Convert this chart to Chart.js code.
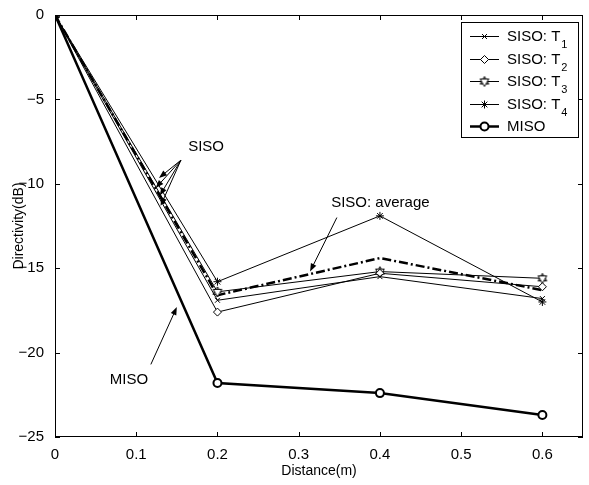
<!DOCTYPE html>
<html lang="en">
<head>
    <meta charset="UTF-8">
    <title>Directivity vs Distance</title>
    <script src="https://cdn.jsdelivr.net/npm/chart.js"></script>
    <style>
        body {
            margin: 0;
            background: #ffffff;
        }

        #wrap {
            width: 589px;
            height: 485px;
        }
    </style>
</head>
<body>
    <div id="wrap">
        <canvas id="chart" width="589" height="485"></canvas>
    </div>

    <script>
        // data
        const distance = [0, 0.2, 0.4, 0.6];
        const sisoT1 = [0, -16.9, -15.5, -16.8];
        const sisoT2 = [0, -17.6, -15.3, -16.1];
        const sisoT3 = [0, -16.4, -15.2, -15.6];
        const sisoT4 = [0, -15.8, -11.9, -17.0];
        const sisoAverage = [0, -16.6, -14.4, -16.3];
        const miso = [0, -21.8, -22.4, -23.7];

        const xTicks = [0, 0.1, 0.2, 0.3, 0.4, 0.5, 0.6];
        const yTicks = [-25, -20, -15, -10, -5, 0];

        const FONT = '"Liberation Sans", Arial, sans-serif';

        // hexagram marker for T3
        function makeHexagram(r) {
            const c = document.createElement('canvas');
            const s = r * 2 + 4;
            c.width = s;
            c.height = s;
            const g = c.getContext('2d');
            const cx = s / 2, cy = s / 2;
            g.strokeStyle = '#000';
            g.fillStyle = '#fff';
            g.lineWidth = 1;
            for (let k = 0; k < 2; k++) {
                g.beginPath();
                for (let i = 0; i < 3; i++) {
                    const a = -Math.PI / 2 + k * Math.PI + i * 2 * Math.PI / 3;
                    const px = cx + r * Math.cos(a), py = cy + r * Math.sin(a);
                    if (i === 0) g.moveTo(px, py); else g.lineTo(px, py);
                }
                g.closePath();
                g.fill();
                g.stroke();
            }
            return c;
        }
        const hexagram = makeHexagram(5);

        function pts(ys) {
            return distance.map((x, i) => ({ x: x, y: ys[i] }));
        }

        const datasets = [
            { label: 'SISO: T', sub: '1', data: pts(sisoT1), borderColor: '#000', borderWidth: 1,
              pointStyle: 'crossRot', pointRadius: 3.5, pointBorderWidth: 1, pointBackgroundColor: '#000' },
            { label: 'SISO: T', sub: '2', data: pts(sisoT2), borderColor: '#000', borderWidth: 1,
              pointStyle: 'rectRot', pointRadius: 4, pointBorderWidth: 1, pointBackgroundColor: '#fff' },
            { label: 'SISO: T', sub: '3', data: pts(sisoT3), borderColor: '#000', borderWidth: 1,
              pointStyle: hexagram, pointRadius: 4, pointBorderWidth: 1, pointBackgroundColor: '#fff' },
            { label: 'SISO: T', sub: '4', data: pts(sisoT4), borderColor: '#000', borderWidth: 1,
              pointStyle: 'star', pointRadius: 4, pointBorderWidth: 1, pointBackgroundColor: '#000' },
            { label: 'SISO: average', data: pts(sisoAverage), borderColor: '#000', borderWidth: 2.5,
              borderDash: [9, 3, 2, 3], pointRadius: 0, noLegend: true },
            { label: 'MISO', data: pts(miso), borderColor: '#000', borderWidth: 2.5,
              pointStyle: 'circle', pointRadius: 4, pointBorderWidth: 2, pointBackgroundColor: '#fff' }
        ];

        // text annotations and arrows, in data coordinates
        const notes = [
            { text: 'SISO', x: 0.186, y: -7.8, align: 'center' },
            { text: 'SISO: average', x: 0.34, y: -11.1, align: 'left' },
            { text: 'MISO', x: 0.091, y: -21.6, align: 'center' }
        ];
        const arrows = [
            { from: [0.155, -8.6], to: [0.128, -9.65] },
            { from: [0.155, -8.6], to: [0.124, -10.25] },
            { from: [0.155, -8.6], to: [0.129, -10.7] },
            { from: [0.155, -8.6], to: [0.130, -11.3] },
            { from: [0.347, -12.0], to: [0.314, -15.2] },
            { from: [0.118, -20.7], to: [0.150, -17.3] }
        ];

        function drawArrow(ctx, x1, y1, x2, y2) {
            const a = Math.atan2(y2 - y1, x2 - x1);
            const len = 8, w = 3;
            ctx.beginPath();
            ctx.moveTo(x1, y1);
            ctx.lineTo(x2 - len * Math.cos(a) * 0.8, y2 - len * Math.sin(a) * 0.8);
            ctx.stroke();
            ctx.beginPath();
            ctx.moveTo(x2, y2);
            ctx.lineTo(x2 - len * Math.cos(a) + w * Math.sin(a), y2 - len * Math.sin(a) - w * Math.cos(a));
            ctx.lineTo(x2 - len * Math.cos(a) - w * Math.sin(a), y2 - len * Math.sin(a) + w * Math.cos(a));
            ctx.closePath();
            ctx.fill();
        }

        const framePlugin = {
            id: 'frame',
            afterDraw(chart) {
                const ctx = chart.ctx;
                const a = chart.chartArea;
                const xs = chart.scales.x, ys = chart.scales.y;
                ctx.save();
                ctx.strokeStyle = '#000';
                ctx.fillStyle = '#000';
                ctx.lineWidth = 1;

                // box
                ctx.strokeRect(a.left + 0.5, a.top + 0.5, a.right - a.left - 1, a.bottom - a.top - 1);

                // inward ticks on all four sides
                ctx.beginPath();
                xTicks.forEach(v => {
                    const px = Math.round(xs.getPixelForValue(v)) + 0.5;
                    ctx.moveTo(px, a.bottom); ctx.lineTo(px, a.bottom - 5);
                    ctx.moveTo(px, a.top); ctx.lineTo(px, a.top + 5);
                });
                yTicks.forEach(v => {
                    const py = Math.round(ys.getPixelForValue(v)) + 0.5;
                    ctx.moveTo(a.left, py); ctx.lineTo(a.left + 5, py);
                    ctx.moveTo(a.right, py); ctx.lineTo(a.right - 5, py);
                });
                ctx.stroke();

                // axis titles
                ctx.font = '14px ' + FONT;
                ctx.textAlign = 'center';
                ctx.textBaseline = 'middle';
                ctx.fillText('Distance(m)', (a.left + a.right) / 2, 471);
                ctx.save();
                ctx.translate(19, (a.top + a.bottom) / 2);
                ctx.rotate(-Math.PI / 2);
                ctx.fillText('Directivity(dB)', 0, 0);
                ctx.restore();

                // annotations
                ctx.font = '15px ' + FONT;
                notes.forEach(n => {
                    ctx.textAlign = n.align;
                    ctx.fillText(n.text, xs.getPixelForValue(n.x), ys.getPixelForValue(n.y));
                });
                ctx.lineWidth = 1;
                arrows.forEach(ar => {
                    drawArrow(ctx,
                        xs.getPixelForValue(ar.from[0]), ys.getPixelForValue(ar.from[1]),
                        xs.getPixelForValue(ar.to[0]), ys.getPixelForValue(ar.to[1]));
                });

                // legend
                const lx = 461, ly = 22, lw = 117, lh = 115;
                ctx.fillStyle = '#fff';
                ctx.fillRect(lx, ly, lw, lh);
                ctx.strokeRect(lx + 0.5, ly + 0.5, lw, lh);
                let row = 0;
                chart.data.datasets.forEach(ds => {
                    if (ds.noLegend) return;
                    const y = Math.round(ly + 14 + row * 22.5) + 0.5;
                    ctx.strokeStyle = '#000';
                    ctx.lineWidth = ds.borderWidth;
                    ctx.setLineDash([]);
                    ctx.beginPath();
                    ctx.moveTo(lx + 9, y);
                    ctx.lineTo(lx + 38, y);
                    ctx.stroke();
                    ctx.fillStyle = ds.pointBackgroundColor;
                    ctx.lineWidth = ds.pointBorderWidth;
                    Chart.helpers.drawPoint(ctx, {
                        pointStyle: ds.pointStyle, radius: ds.pointRadius, rotation: 0, borderWidth: ds.pointBorderWidth
                    }, lx + 23.5, y);
                    ctx.fillStyle = '#000';
                    ctx.font = '15px ' + FONT;
                    ctx.textAlign = 'left';
                    ctx.textBaseline = 'middle';
                    ctx.fillText(ds.label, lx + 46, y);
                    if (ds.sub) {
                        const w = ctx.measureText(ds.label).width;
                        ctx.font = '11px ' + FONT;
                        ctx.fillText(ds.sub, lx + 46 + w + 1, y + 8);
                    }
                    row++;
                });
                ctx.restore();
            }
        };

        const ctx = document.getElementById('chart').getContext('2d');
        const myChart = new Chart(ctx, {
            type: 'line',
            data: { datasets: datasets },
            options: {
                responsive: false,
                animation: false,
                layout: { padding: { top: 15, right: 4, left: 0, bottom: 0 } },
                plugins: { legend: { display: false }, tooltip: { enabled: false } },
                elements: { line: { tension: 0 } },
                scales: {
                    x: {
                        type: 'linear',
                        min: 0,
                        max: 0.65,
                        afterBuildTicks: (scale) => { scale.ticks = xTicks.map(v => ({ value: v })); },
                        afterFit: (scale) => { scale.height = 48; },
                        grid: { display: false },
                        border: { display: false },
                        ticks: {
                            color: '#000',
                            font: { family: FONT, size: 15 },
                            padding: 1,
                            maxRotation: 0,
                            callback: (v) => String(v)
                        }
                    },
                    y: {
                        type: 'linear',
                        min: -25,
                        max: 0,
                        afterBuildTicks: (scale) => { scale.ticks = yTicks.map(v => ({ value: v })); },
                        afterFit: (scale) => { scale.width = 55; },
                        grid: { display: false },
                        border: { display: false },
                        ticks: {
                            color: '#000',
                            font: { family: FONT, size: 15 },
                            padding: 3,
                            callback: (v) => String(v).replace('-', '\u2212')
                        }
                    }
                }
            },
            plugins: [framePlugin]
        });
    </script>
</body>
</html>
